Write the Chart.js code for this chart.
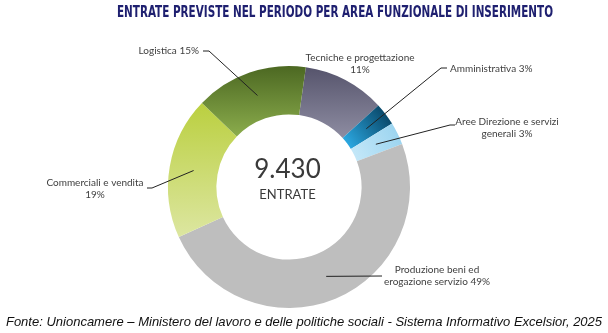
<!DOCTYPE html>
<html>
<head>
<meta charset="utf-8">
<script src="https://cdn.jsdelivr.net/npm/chart.js@4.4.1/dist/chart.umd.min.js"></script>
<style>
  html, body { margin: 0; padding: 0; background: #fff; }
  #wrap { width: 608px; height: 333px; }
</style>
</head>
<body>
<div id="wrap"><canvas id="donut" width="608" height="333"></canvas></div>
<script>
// Data (clockwise, starting just right of the top)
const categories = ['Tecniche e progettazione', 'Amministrativa', 'Aree Direzione e servizi generali',
  'Produzione beni ed erogazione servizio', 'Commerciali e vendita', 'Logistica'];
const shares = [11, 3, 3, 49, 19, 15];
const labelLines = [
  ['Tecniche e progettazione', '11%'],
  ['Amministrativa 3%'],
  ['Aree Direzione e servizi', 'generali 3%'],
  ['Produzione beni ed', 'erogazione servizio 49%'],
  ['Commerciali e vendita', '19%'],
  ['Logistica 15%']
];
const totalValue = '9.430';
const totalCaption = 'ENTRATE';
const chartTitle = 'ENTRATE PREVISTE NEL PERIODO PER AREA FUNZIONALE DI INSERIMENTO';
const sourceNote = 'Fonte: Unioncamere \u2013 Ministero del lavoro e delle politiche sociali - Sistema Informativo Excelsior, 2025';

// slice colours (flat fallback, gradients are built in sliceFill)
const flatColors = ['#77768c', '#1a79a8', '#a9dcf4', '#bebebe', '#cddc6e', '#6d8c38'];

// where each label sits: text anchor, alignment, and the bend of its leader line
const labelSpots = [
  { x: 360, y: 58, align: 'center', leader: null },
  { x: 450, y: 69, align: 'left', leader: [[441, 68], [447, 68]] },
  { x: 507, y: 122, align: 'center', leader: [[450, 125], [455, 125]] },
  { x: 437, y: 270, align: 'center', leader: [[382, 276]] },
  { x: 95, y: 183, align: 'center', leader: [[152, 188], [147, 188]] },
  { x: 199, y: 51, align: 'right', leader: [[209, 51], [203, 51]] }
];

function sliceFill(context) {
  const chart = context.chart;
  const area = chart.chartArea;
  const i = context.dataIndex;
  if (!area) return flatColors[i];
  const c = chart.ctx;
  const cx = (area.left + area.right) / 2;
  const cy = (area.top + area.bottom) / 2;
  const R = Math.min(area.width, area.height) / 2;
  let g;
  if (i === 0) {
    g = c.createLinearGradient(0, area.top, 0, area.top + 80);
    g.addColorStop(0, '#55536b');
    g.addColorStop(1, '#9493a8');
  } else if (i === 1) {
    g = c.createRadialGradient(cx, cy, R * 0.6, cx, cy, R);
    g.addColorStop(0, '#2ba7e0');
    g.addColorStop(1, '#0a4a6c');
  } else if (i === 2) {
    g = c.createRadialGradient(cx, cy, R * 0.6, cx, cy, R);
    g.addColorStop(0, '#c3e7f8');
    g.addColorStop(1, '#9dd5f0');
  } else if (i === 3) {
    return '#bebebe';
  } else if (i === 4) {
    g = c.createLinearGradient(0, area.top + 35, 0, area.top + 170);
    g.addColorStop(0, '#bacf3e');
    g.addColorStop(1, '#dce6a0');
  } else {
    g = c.createLinearGradient(0, area.top, 0, area.top + 75);
    g.addColorStop(0, '#4c6822');
    g.addColorStop(1, '#8fb14f');
  }
  return g;
}

// shrink a font until the text fits the width seen in the picture
function fitFont(ctx, text, style, family, maxSize, width) {
  let size = maxSize;
  ctx.font = style + ' ' + size + 'px ' + family;
  while (ctx.measureText(text).width > width && size > 6) {
    size -= 0.25;
    ctx.font = style + ' ' + size + 'px ' + family;
  }
  return size;
}

const textPlugin = {
  id: 'texts',
  afterDraw(chart) {
    const ctx = chart.ctx;
    const meta = chart.getDatasetMeta(0);
    ctx.save();

    // title: condensed look, squeezed to the width of the original
    ctx.fillStyle = '#1f2070';
    ctx.textAlign = 'center';
    ctx.textBaseline = 'middle';
    ctx.font = 'bold 15px "DejaVu Sans Condensed", "DejaVu Sans"';
    const tw = ctx.measureText(chartTitle).width;
    ctx.save();
    ctx.translate(335, 13);
    ctx.scale(Math.min(1, 436 / tw), 1);
    ctx.fillText(chartTitle, 0, 0);
    ctx.restore();

    // source line
    ctx.fillStyle = '#111';
    fitFont(ctx, sourceNote, 'italic', '"Liberation Sans", Arial', 14, 597);
    ctx.fillText(sourceNote, 304, 322);

    // centre total
    const arc0 = meta.data[0];
    ctx.fillStyle = '#3a3a3a';
    ctx.font = '26px Lato';
    ctx.fillText(totalValue, arc0.x - 1.5, 170);
    ctx.font = '13px Lato';
    ctx.fillText(totalCaption, arc0.x - 1.5, 195);

    // labels and leader lines
    ctx.strokeStyle = '#222';
    ctx.lineWidth = 1;
    meta.data.forEach((arc, i) => {
      const spot = labelSpots[i];
      if (spot.leader) {
        const p = arc.tooltipPosition();
        ctx.beginPath();
        ctx.moveTo(p.x, p.y);
        spot.leader.forEach(pt => ctx.lineTo(pt[0], pt[1]));
        ctx.stroke();
      }
      ctx.fillStyle = '#404040';
      ctx.font = '10px Lato';
      ctx.textAlign = spot.align;
      labelLines[i].forEach((line, k) => {
        ctx.fillText(line, spot.x, spot.y + k * 12);
      });
    });
    ctx.restore();
  }
};

new Chart(document.getElementById('donut').getContext('2d'), {
  type: 'doughnut',
  data: {
    labels: categories,
    datasets: [{
      data: shares,
      backgroundColor: sliceFill,
      borderWidth: 0
    }]
  },
  options: {
    responsive: false,
    animation: false,
    rotation: 8,
    cutout: '60%',
    layout: { padding: { top: 66, bottom: 25, left: 0, right: 30 } },
    plugins: {
      legend: { display: false },
      tooltip: { enabled: false }
    }
  },
  plugins: [textPlugin]
});
</script>
</body>
</html>
